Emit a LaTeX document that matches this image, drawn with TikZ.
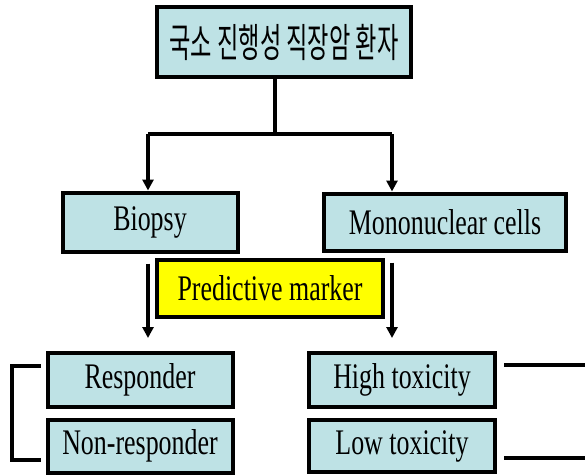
\documentclass[tikz,border=0pt]{standalone}
\usepackage{fontspec}
\setmainfont{Liberation Serif}[FakeStretch=0.72]
\newfontfamily\kofont{Noto Sans CJK KR}[FakeStretch=0.58]
\usepackage{tikz}
\usetikzlibrary{arrows.meta, positioning, calc}
\definecolor{boxcyan}{RGB}{190,226,229}
\definecolor{markyellow}{RGB}{255,255,0}
\begin{document}
\begin{tikzpicture}[
  x=1pt, y=-1pt,
  bx/.style={rectangle, draw=black, line width=4pt, fill=boxcyan, inner sep=0pt, font=\fontsize{36}{40}\selectfont, align=center},
  topbx/.style={bx, font=\kofont\fontsize{40}{44}\selectfont},
  markbx/.style={bx, fill=markyellow},
  conn/.style={line width=3.4pt},
  arr/.style={conn, -{Triangle[length=11pt, width=11pt]}},
  brk/.style={line width=4pt},
]
\useasboundingbox (0,0) rectangle (585,474);

\node[topbx, minimum width=254pt, minimum height=70pt] (patient) at (284,42)  {국소 진행성 직장암 환자};
\node[bx, minimum width=175pt, minimum height=59pt]    (biopsy)  at (150,222) {Biopsy};
\node[bx, minimum width=242pt, minimum height=57pt]    (mono)    at (445,222) {Mononuclear cells};
\node[markbx, minimum width=226pt, minimum height=57pt] (marker) at (270,288) {Predictive marker};
\node[bx, minimum width=185pt, minimum height=54pt]    (resp)    at (140,380) {Responder};
\node[bx, minimum width=185pt, minimum height=53pt]    (nonresp) at (140,446) {Non-responder};
\node[bx, minimum width=186pt, minimum height=54pt]    (hightox) at (402,380) {High toxicity};
\node[bx, minimum width=186pt, minimum height=52pt]    (lowtox)  at (402,446) {Low toxicity};

\coordinate (split) at (275,134);
\coordinate (lsplit) at (148,134);
\coordinate (rsplit) at (392,134);

\draw[conn] (patient.south -| split) -- (split);
\draw[conn] (lsplit) -- (rsplit);
\draw[arr] (lsplit) -- (lsplit |- biopsy.north);
\draw[arr] (rsplit) -- (rsplit |- mono.north);
\draw[arr] ([yshift=-10pt]biopsy.south -| lsplit) -- ([yshift=13pt]resp.north -| lsplit);
\draw[arr] ([yshift=-10pt]mono.south -| rsplit) -- ([yshift=13pt]hightox.north -| rsplit);

\draw[brk] ([shift={(-5pt,14pt)}]resp.west) -- ++(-29pt,0) |- ([shift={(-5pt,-14pt)}]nonresp.west);
\draw[brk] ([shift={(7pt,15pt)}]hightox.east) -- ++(90pt,0) |- ([shift={(7pt,-12pt)}]lowtox.east);
\end{tikzpicture}
\end{document}
